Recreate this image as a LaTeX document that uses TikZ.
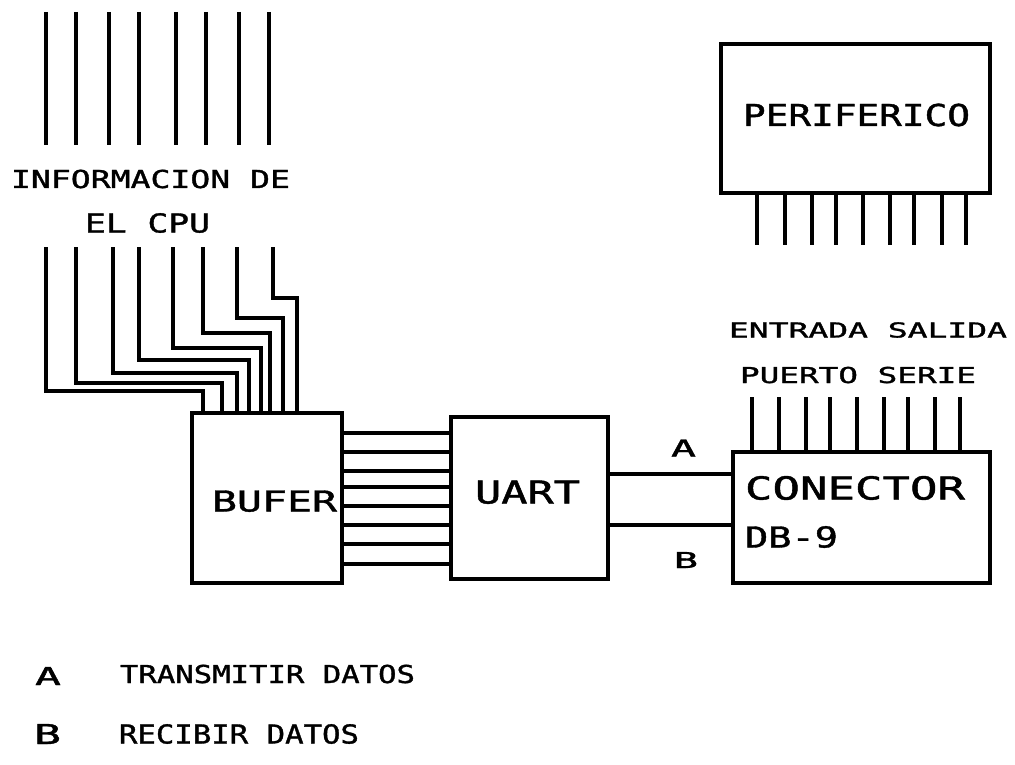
\documentclass[tikz,border=0pt]{standalone}
\usepackage{fontspec}
\usepackage{graphicx}
\newfontfamily\cadfont[FakeBold=1.2]{DejaVu Sans Mono}
% #1 = target width, #2 = font size (cap height / 0.729), #3 = text
\newcommand{\fittext}[3]{\resizebox{#1pt}{\height}{\cadfont\fontsize{#2pt}{#2pt}\selectfont #3}}
\begin{document}
\begin{tikzpicture}[x=1pt,y=-1pt,line width=3.1pt,
  box/.style={draw,rectangle,inner sep=0pt,outer sep=0pt},
  lbl/.style={inner sep=0pt,outer sep=0pt,anchor=base west}]
\useasboundingbox[fill=white] (0,0) rectangle (1015,765);

% boxes
\node[box,minimum width=150pt,minimum height=170pt] (bufer) at (267,498) {};
\node[box,minimum width=157pt,minimum height=162pt] (uart) at (529.5,498) {};
\node[box,minimum width=257pt,minimum height=131pt] (conector) at (861.5,517.5) {};
\node[box,minimum width=269pt,minimum height=149pt] (periferico) at (855.5,118.5) {};

% labels
\node[lbl] (info1) at (11,188) {\fittext{279}{24.7}{INFORMACION DE}};
\node[lbl] (info2) at (85,232.5) {\fittext{125}{26.1}{EL CPU}};
\node[lbl] (tbufer) at (212,511.5) {\fittext{125}{28.8}{BUFER}};
\node[lbl] (tuart) at (475,503.5) {\fittext{105}{31.6}{UART}};
\node[lbl] (es1) at (729,337.5) {\fittext{278}{20.6}{ENTRADA SALIDA}};
\node[lbl] (es2) at (740,383) {\fittext{236}{21.9}{PUERTO SERIE}};
\node[lbl] (la) at (671,456.5) {\fittext{25}{23.3}{A}};
\node[lbl] (lb) at (674,568) {\fittext{24}{21.9}{B}};
\node[lbl] (tcon1) at (745,499.5) {\fittext{220}{31.6}{CONECTOR}};
\node[lbl] (tcon2) at (745,547.5) {\fittext{93}{28.8}{DB-9}};
\node[lbl] (tperi) at (743,126) {\fittext{227}{30.2}{PERIFERICO}};
\node[lbl] (kA) at (35,685) {\fittext{26}{24.7}{A}};
\node[lbl] (kAt) at (120,683) {\fittext{295}{24.7}{TRANSMITIR DATOS}};
\node[lbl] (kB) at (34,744) {\fittext{27}{27.4}{B}};
\node[lbl] (kBt) at (119,743.5) {\fittext{240}{26.1}{RECIBIR DATOS}};

% CPU lines (top)
\foreach \x [count=\i] in {46,76,109,139,176,206,239,269} {
  \coordinate (ta\i) at (\x,12);
  \coordinate (tb\i) at (\x,145);
  \draw (ta\i) -- (tb\i);
}

% bus into buffer
\foreach \sx/\hy/\dx [count=\i] in {46/391/203,76/383/222,113/373/237,139/360/249,173/348/261,203/333/270,237/318/283,273/298/297} {
  \coordinate (bs\i) at (\sx,247);
  \coordinate (bd\i) at (\dx,\hy);
  \draw (bs\i) |- (bd\i) -- (bd\i |- bufer.north);
}

% buffer to UART
\foreach \y [count=\i] in {433,452,471,487,506,525,544,564} {
  \coordinate (r\i) at (0,\y);
  \draw (bufer.east |- r\i) -- (uart.west |- r\i);
}

% UART to connector
\coordinate (ya) at (0,474);
\coordinate (yb) at (0,525);
\draw (uart.east |- ya) -- (conector.west |- ya);
\draw (uart.east |- yb) -- (conector.west |- yb);

% connector pins
\foreach \x [count=\i] in {752,779,806,830,857,884,908,935,960} {
  \coordinate (cp\i) at (\x,397);
  \draw (cp\i) -- (cp\i |- conector.north);
}

% peripheral pins
\foreach \x [count=\i] in {757,785,812,836,863,890,914,942,966} {
  \coordinate (pp\i) at (\x,245);
  \draw (pp\i |- periferico.south) -- (pp\i);
}
\end{tikzpicture}
\end{document}
